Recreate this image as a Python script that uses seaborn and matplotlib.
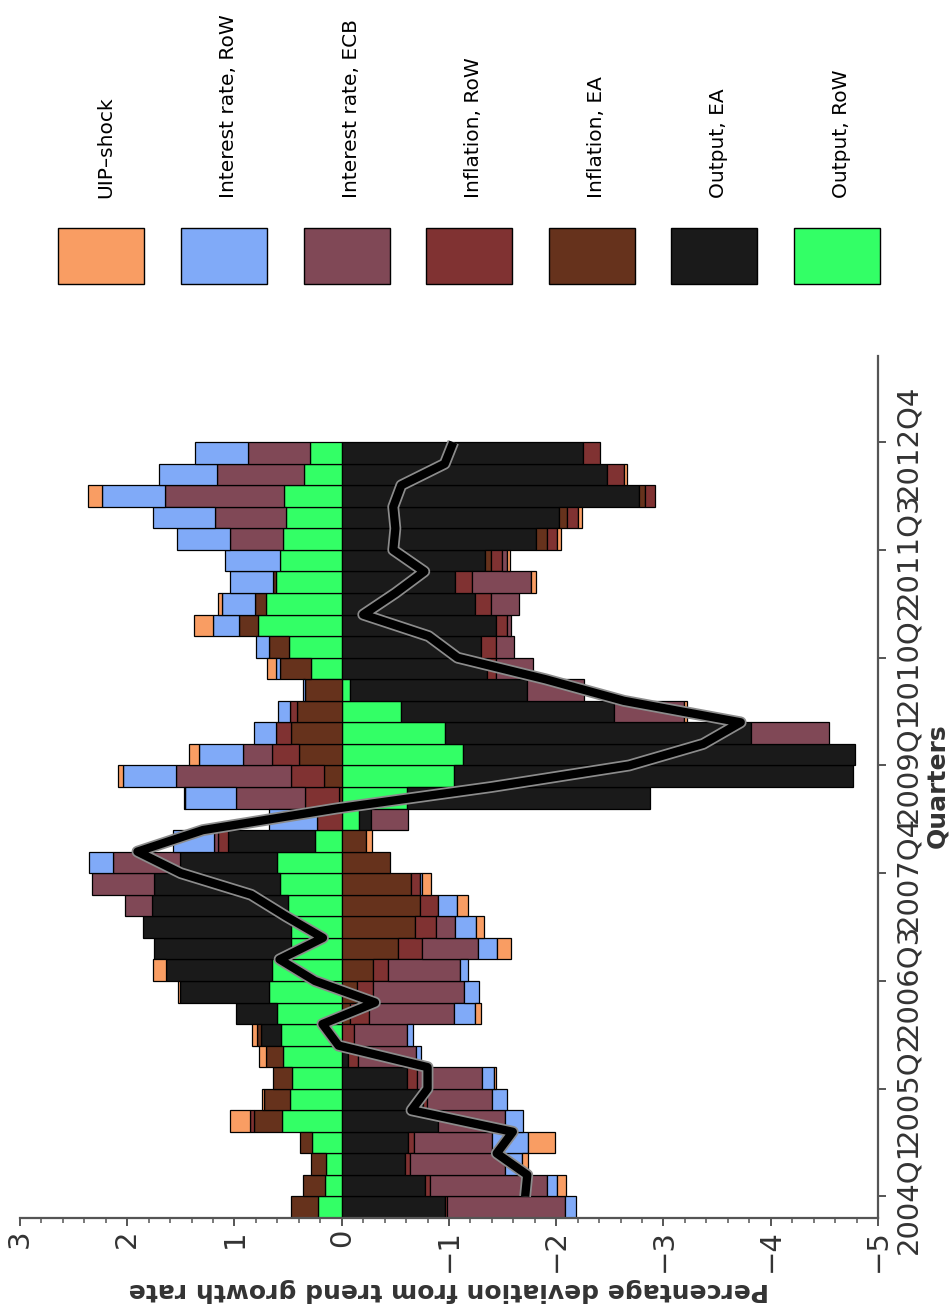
import numpy as np
import pandas as pd
import matplotlib
matplotlib.use("Agg")
import matplotlib.pyplot as plt
import matplotlib.patheffects as pe
from matplotlib.patches import Rectangle
from matplotlib.ticker import MultipleLocator, FixedLocator
import seaborn as sns

# quarters 2004Q1 .. 2012Q4
quarters = [f"{y}Q{q}" for y in range(2004, 2013) for q in range(1, 5)]
tick_labels = ["2004Q1", "2005Q2", "2006Q3", "2007Q4", "2009Q1", "2010Q2", "2011Q3", "2012Q4"]

output_row = [0.22, 0.16, 0.15, 0.28, 0.56, 0.48, 0.46, 0.55, 0.57, 0.60, 0.68, 0.65,
              0.47, 0.47, 0.50, 0.58, 0.60, 0.245, -0.16, -0.61, -1.05, -1.13, -0.96, -0.55,
              -0.08, 0.29, 0.49, 0.78, 0.71, 0.61, 0.58, 0.55, 0.52, 0.54, 0.35, 0.30]
output_ea = [-0.96, -0.78, -0.59, -0.62, -0.90, -0.755, -0.61, -0.06, 0.18, 0.39, 0.83, 0.99,
             1.285, 1.38, 1.265, 1.17, 0.91, 0.82, -0.11, -2.26, -3.72, -3.66, -2.86, -1.99,
             -1.65, -1.35, -1.30, -1.44, -1.24, -1.06, -1.34, -1.81, -2.03, -2.77, -2.47, -2.25]
inflation_ea = [0.25, 0.20, 0.14, 0.11, 0.26, 0.245, 0.18, 0.16, 0.04, -0.08, -0.14, -0.29,
                -0.52, -0.68, -0.73, -0.65, -0.45, -0.23, 0.0, 0.03, 0.17, 0.40, 0.47, 0.42,
                0.34, 0.29, 0.19, 0.18, 0.10, 0.03, -0.05, -0.10, -0.07, -0.06, 0.0, 0.0]
inflation_row = [-0.02, -0.04, -0.05, -0.05, 0.04, -0.04, -0.09, -0.09, -0.11, -0.17, -0.15, -0.14,
                 -0.23, -0.20, -0.17, -0.08, 0.0, 0.09, 0.235, 0.31, 0.30, 0.25, 0.14, 0.06,
                 0.0, -0.09, -0.14, -0.10, -0.15, -0.15, -0.10, -0.10, -0.10, -0.09, -0.16, -0.16]
interest_ecb = [-1.10, -1.09, -0.885, -0.73, -0.62, -0.61, -0.61, -0.54, -0.50, -0.80, -0.85, -0.67,
                -0.52, -0.18, 0.26, 0.58, 0.625, 0.04, -0.35, 0.65, 1.08, 0.27, -0.72, -0.65,
                -0.53, -0.34, -0.17, -0.04, -0.26, -0.55, -0.05, 0.49, 0.66, 1.11, 0.81, 0.57]
interest_row = [-0.10, -0.10, -0.16, -0.34, -0.17, -0.14, -0.11, -0.05, -0.05, -0.19, -0.14, -0.08,
                -0.18, -0.19, -0.17, -0.02, 0.22, 0.38, 0.44, 0.47, 0.49, 0.41, 0.21, 0.11,
                0.02, 0.03, 0.12, 0.24, 0.31, 0.40, 0.51, 0.50, 0.58, 0.59, 0.54, 0.50]
uip_shock = [0.0, -0.08, -0.05, -0.245, 0.18, 0.02, -0.02, 0.06, 0.05, -0.06, 0.02, 0.12,
             -0.13, -0.08, -0.11, -0.08, 0.0, -0.05, 0.0, 0.015, 0.05, 0.09, 0.0, -0.03,
             0.0, 0.09, 0.0, 0.18, 0.03, -0.05, -0.03, -0.03, -0.04, 0.125, -0.03, 0.0]

series_names = ["Output, RoW", "Output, EA", "Inflation, EA", "Inflation, RoW",
                "Interest rate, ECB", "Interest rate, RoW", "UIP\u2013shock"]
series_colors = ["#33ff66", "#1a1a1a", "#66321c", "#803232", "#804856", "#80aaf8", "#f99d63"]

df = pd.DataFrame(dict(zip(series_names,
                           [output_row, output_ea, inflation_ea, inflation_row,
                            interest_ecb, interest_row, uip_shock])), index=quarters)

sns.set_style("ticks")
plt.rcParams["font.family"] = ["DejaVu Sans"]
text_col = "#333333"
axis_col = "#555555"

fig = plt.figure(figsize=(9.53, 13.13), dpi=100)
ax = fig.add_axes([20 / 953, 1 - 1218 / 1313, 858 / 953, 862 / 1313])

# stacked bars, positives and negatives stacked separately from zero
pos = np.arange(len(df))
pos_base = np.zeros(len(df))
neg_base = np.zeros(len(df))
for name, col in zip(series_names, series_colors):
    vals = df[name].to_numpy()
    left = np.where(vals >= 0, pos_base, neg_base)
    m = vals != 0
    ax.barh(pos[m], vals[m], left=left[m], height=1.0, color=col,
            edgecolor="black", linewidth=0.9, zorder=2)
    pos_base += np.clip(vals, 0, None)
    neg_base += np.clip(vals, None, 0)

total = df.sum(axis=1).to_numpy()
sns.lineplot(x=total, y=pos + 0.5, sort=False, estimator=None, orient="y", ax=ax,
             color="black", linewidth=6, zorder=5, solid_capstyle="butt",
             solid_joinstyle="round",
             path_effects=[pe.Stroke(linewidth=8.5, foreground="#8c8c8c"), pe.Normal()])

ax.set_xlim(3, -5)
ax.set_ylim(-0.5, 39.5)
ax.xaxis.set_major_locator(MultipleLocator(1))
ax.xaxis.set_minor_locator(MultipleLocator(0.2))
ax.set_xticklabels([f"{v:g}".replace("-", "\u2212") for v in ax.get_xticks()])
ax.yaxis.tick_right()
ax.yaxis.set_major_locator(FixedLocator([quarters.index(q) + 0.5 for q in tick_labels]))
ax.set_yticklabels(tick_labels)

for side in ["top", "left"]:
    ax.spines[side].set_visible(False)
for side in ["bottom", "right"]:
    ax.spines[side].set_color(axis_col)
    ax.spines[side].set_linewidth(1.6)

ax.tick_params(axis="x", which="major", length=6, width=1.4, color=axis_col,
               labelsize=21, labelcolor=text_col, pad=2, labelrotation=90)
ax.tick_params(axis="x", which="minor", length=3.5, width=1.1, color=axis_col)
ax.tick_params(axis="y", which="major", length=6, width=1.4, color=axis_col,
               labelsize=21, labelcolor=text_col, pad=6, labelrotation=90,
               left=False, right=True)
for lab in ax.get_yticklabels():
    lab.set_va("center")
    lab.set_ha("left")
for lab in ax.get_xticklabels():
    lab.set_va("top")
    lab.set_ha("center")

ax.set_xlabel("Percentage deviation from trend growth rate", fontsize=18,
              fontweight="bold", color=text_col, rotation=180, va="center")
ax.xaxis.set_label_coords(0.5, -72 / 862)
ax.yaxis.set_label_position("right")
ax.set_ylabel("Quarters", fontsize=18, fontweight="bold", color=text_col,
              rotation=90, va="center")
ax.yaxis.set_label_coords(1 + 59 / 858, 0.502)

# legend drawn in pixel coordinates across the top
lax = fig.add_axes([0, 1 - 300 / 1313, 1, 300 / 1313])
lax.set_xlim(0, 953)
lax.set_ylim(300, 0)
lax.axis("off")
leg_x = [58, 181, 304, 426, 549, 671, 794]
for x0, name, col in zip(leg_x, series_names[::-1], series_colors[::-1]):
    lax.add_patch(Rectangle((x0, 228), 86, 56, facecolor=col, edgecolor="black", linewidth=1.0))
    lax.text(x0 + 48, 198, name, rotation=90, ha="center", va="bottom",
             fontsize=14.5, color="black")

fig.savefig("out.png", dpi=100)
